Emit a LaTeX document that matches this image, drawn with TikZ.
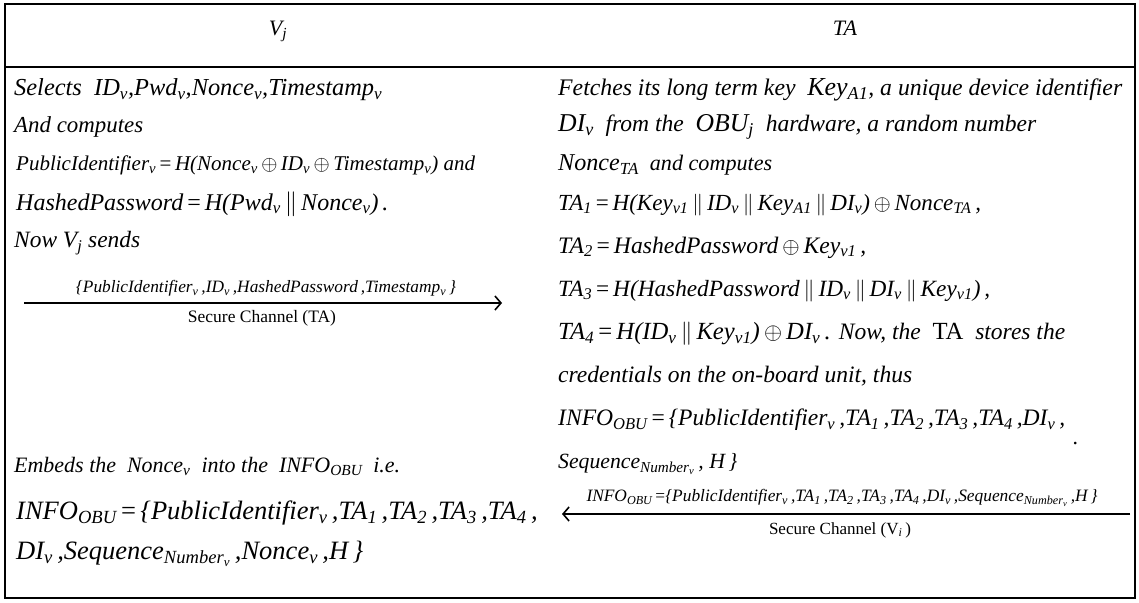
\documentclass[tikz,border=0pt]{standalone}
\usepackage{fontspec}
\usepackage{graphicx}
\setmainfont{Liberation Serif}
\usetikzlibrary{arrows.meta}
\newcommand\su[1]{\textsubscript{#1}}
\newcommand\xorop{\,\ensuremath{\oplus}\,}
\newcommand\catop{\,\ensuremath{\|}\,}
\newcommand\eqop{\,{\upshape=}\,}
\newcommand\fitw[2]{\resizebox{#1pt}{!}{#2}}
\newcommand\fsz[1]{\fontsize{#1}{#1}\selectfont}
\begin{document}
\begin{tikzpicture}[x=1pt,y=-1pt,
  txt/.style={anchor=west, inner sep=0pt, font=\fsz{22}\itshape},
  head/.style={inner sep=0pt, font=\fsz{22}\itshape},
  lbl/.style={inner sep=0pt, font=\fsz{16}\itshape},
  chan/.style={inner sep=0pt, font=\fsz{16}},
  frame/.style={line width=2pt},
  msg/.style={line width=1.4pt, -{Straight Barb[length=6pt,width=14pt,line width=1.6pt]}}]
\useasboundingbox (0,0) rectangle (1139,602);
\draw[frame] (5,4) rectangle (1135,598);
\draw[frame] (5,67) -- (1135,67);
% headers
\node[head] (hv) at (278,31) {V\su{j}};
\node[head] (hta) at (845,28) {TA};
% left column
\node[txt] (l1) at (14,90) {\fitw{368}{Selects\ \ ID\su{v},Pwd\su{v},Nonce\su{v},Timestamp\su{v}}};
\node[txt] (l2) at (14,127) {\fitw{129}{And computes}};
\node[txt] (l3) at (16,165) {\fsz{21}PublicIdentifier\su{v}\eqop H(Nonce\su{v}\xorop ID\su{v}\xorop Timestamp\su{v}) and};
\node[txt] (l4) at (16,204) {\fsz{24}HashedPassword\eqop H(Pwd\su{v}\catop Nonce\su{v})\,.};
\node[txt] (l5) at (14,243) {\fitw{126}{Now V\su{j} sends}};
\coordinate (a1s) at (24,303);
\coordinate (a1e) at (502,303);
\draw[msg] (a1s) -- (a1e);
\node[lbl] (a1t) at (266,288) {\fitw{380}{\{PublicIdentifier\su{v}\,,ID\su{v}\,,HashedPassword\,,Timestamp\su{v}\,\}}};
\node[chan] (a1b) at (262,318) {\fitw{148}{Secure Channel (TA)}};
\node[txt] (l6) at (14,466) {\fitw{386}{Embeds the\ \ Nonce\su{v}\ \ into the\ \ INFO\su{OBU}\ \ i.e.}};
\node[txt] (l7) at (16,513) {\fsz{26.5}INFO\su{OBU}\eqop\{PublicIdentifier\su{v}\,,TA\su{1}\,,TA\su{2}\,,TA\su{3}\,,TA\su{4}\,,};
\node[txt] (l8) at (16,554) {\fsz{26.5}DI\su{v}\,,Sequence\su{Number\su{v}}\,,Nonce\su{v}\,,H\,\}};
% right column
\node[txt] (r1) at (558,90) {\fitw{564}{Fetches its long term key\ \ {\fsz{24}Key\su{A1}}, a unique device identifier}};
\node[txt] (r2) at (558,127) {\fitw{478}{{\fsz{24}DI\su{v}}\ \ from the\ \ {\fsz{24}OBU\su{j}}\ \ hardware, a random number}};
\node[txt] (r3) at (558,165) {\fitw{214}{{\fsz{24}Nonce\su{TA}}\ \ and computes}};
\node[txt] (r4) at (558,205) {\fitw{423}{TA\su{1}\eqop H(Key\su{v1}\catop ID\su{v}\catop Key\su{A1}\catop DI\su{v})\xorop Nonce\su{TA}\,,}};
\node[txt] (r5) at (558,248) {\fitw{308}{TA\su{2}\eqop HashedPassword\xorop Key\su{v1}\,,}};
\node[txt] (r6) at (558,291) {\fitw{432}{TA\su{3}\eqop H(HashedPassword\catop ID\su{v}\catop DI\su{v}\catop Key\su{v1})\,,}};
\node[txt] (r7) at (558,334) {\fitw{507}{TA\su{4}\eqop H(ID\su{v}\catop Key\su{v1})\xorop DI\su{v}\,. {\fsz{21}Now, the\ \ {\upshape\fsz{22}TA}\ \ stores the}}};
\node[txt] (r8) at (558,376) {\fitw{354}{credentials on the on-board unit, thus}};
\node[txt] (r9) at (558,420) {\fitw{507}{INFO\su{OBU}\eqop\{PublicIdentifier\su{v}\,,TA\su{1}\,,TA\su{2}\,,TA\su{3}\,,TA\su{4}\,,DI\su{v}\,,}};
\node[txt] (r10) at (558,464) {\fitw{179}{Sequence\su{Number\su{v}}\,, H\,\}}};
\node[txt] (rdot) at (1073,444) {.};
\coordinate (a2s) at (1130,514);
\coordinate (a2e) at (562,514);
\draw[msg] (a2s) -- (a2e);
\node[lbl] (a2t) at (842,498) {\fitw{511}{INFO\su{OBU}\,{\upshape=}\{PublicIdentifier\su{v}\,,TA\su{1}\,,TA\su{2}\,,TA\su{3}\,,TA\su{4}\,,DI\su{v}\,,Sequence\su{Number\su{v}}\,,H\,\}}};
\node[chan] (a2b) at (840,530) {\fitw{142}{Secure Channel (V\su{\itshape i}\,)}};
\end{tikzpicture}
\end{document}
